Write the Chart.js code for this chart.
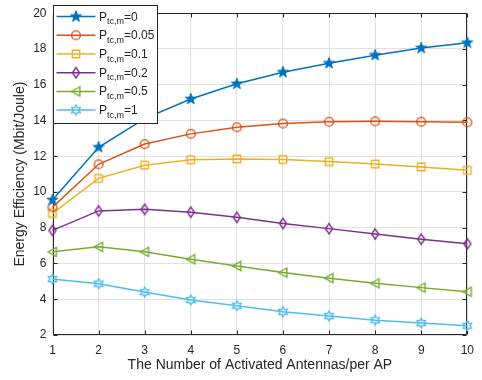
<!DOCTYPE html>
<html>
<head>
<meta charset="utf-8">
<style>
  html, body { margin: 0; padding: 0; background: #ffffff; }
  #wrap { width: 482px; height: 380px; position: relative; }
  canvas { display: block; }
</style>
<script src="https://cdn.jsdelivr.net/npm/chart.js@4.4.0/dist/chart.umd.min.js"></script>
</head>
<body>
<div id="wrap"><canvas id="c" width="482" height="380"></canvas></div>
<script>
// ---------- data ----------
const antennas = [1, 2, 3, 4, 5, 6, 7, 8, 9, 10];
const ptcLabels = ['0', '0.05', '0.1', '0.2', '0.5', '1'];
const ee_p0    = [9.55, 12.5, 14.1, 15.2, 16.05, 16.7, 17.2, 17.65, 18.05, 18.35];
const ee_p005  = [9.15, 11.55, 12.68, 13.25, 13.62, 13.83, 13.93, 13.95, 13.93, 13.9];
const ee_p01   = [8.8, 10.76, 11.5, 11.8, 11.85, 11.82, 11.7, 11.56, 11.4, 11.21];
const ee_p02   = [7.85, 8.94, 9.03, 8.87, 8.58, 8.24, 7.95, 7.65, 7.36, 7.1];
const ee_p05   = [6.65, 6.93, 6.65, 6.24, 5.86, 5.49, 5.18, 4.89, 4.65, 4.42];
const ee_p1    = [5.13, 4.87, 4.4, 3.96, 3.64, 3.3, 3.06, 2.83, 2.67, 2.52];
const xTicks = [1, 2, 3, 4, 5, 6, 7, 8, 9, 10];
const yTicks = [2, 4, 6, 8, 10, 12, 14, 16, 18, 20];
const xTitle = 'The Number of Activated Antennas/per AP';
const yTitle = 'Energy Efficiency (Mbit/Joule)';

const seriesValues = [ee_p0, ee_p005, ee_p01, ee_p02, ee_p05, ee_p1];
const colors = ['#0072BD', '#D95319', '#EDB120', '#7E2F8E', '#77AC30', '#4DBEEE'];
const FONT = '"Liberation Sans", Arial, Helvetica, sans-serif';
const AXIS = '#262626';

// ---------- marker images ----------
function mk(w, h, fn) {
  const c = document.createElement('canvas');
  c.width = w; c.height = h;
  const g = c.getContext('2d');
  g.translate(w / 2, h / 2);
  fn(g);
  return c;
}
function starPath(g, n, R, r) {
  g.beginPath();
  for (let i = 0; i < 2 * n; i++) {
    const a = -Math.PI / 2 + i * Math.PI / n;
    const rr = i % 2 === 0 ? R : r;
    const x = Math.cos(a) * rr, y = Math.sin(a) * rr;
    if (i === 0) g.moveTo(x, y); else g.lineTo(x, y);
  }
  g.closePath();
}
const markers = [
  mk(16, 16, g => { starPath(g, 5, 5.8, 2.4); g.fillStyle = colors[0]; g.fill(); g.strokeStyle = colors[0]; g.lineWidth = 1; g.stroke(); }),
  mk(14, 14, g => { g.beginPath(); g.arc(0, 0, 4.4, 0, Math.PI * 2); g.strokeStyle = colors[1]; g.lineWidth = 1.4; g.stroke(); }),
  mk(14, 14, g => { g.beginPath(); g.rect(-3.7, -3.7, 7.4, 7.4); g.strokeStyle = colors[2]; g.lineWidth = 1.4; g.stroke(); }),
  mk(14, 16, g => { g.beginPath(); g.moveTo(0, -5.2); g.lineTo(3.5, 0); g.lineTo(0, 5.2); g.lineTo(-3.5, 0); g.closePath(); g.strokeStyle = colors[3]; g.lineWidth = 1.4; g.stroke(); }),
  mk(14, 14, g => { g.beginPath(); g.moveTo(-4.5, 0); g.lineTo(3.9, -4.5); g.lineTo(3.9, 4.5); g.closePath(); g.strokeStyle = colors[4]; g.lineWidth = 1.4; g.stroke(); }),
  mk(14, 14, g => { starPath(g, 6, 4.9, 2.8); g.strokeStyle = colors[5]; g.lineWidth = 1.4; g.stroke(); })
];

// ---------- datasets ----------
const datasets = seriesValues.map((vals, i) => ({
  label: 'P_tc,m=' + ptcLabels[i],
  data: antennas.map((x, k) => ({ x: x, y: vals[k] })),
  borderColor: colors[i],
  backgroundColor: colors[i],
  borderWidth: 1.5,
  pointStyle: markers[i],
  pointRadius: 5,
  pointHoverRadius: 5,
  tension: 0,
  fill: false,
  clip: false
}));

// ---------- plugins ----------
const framePlugin = {
  id: 'frame',
  beforeDatasetsDraw(chart) {
    const { ctx, chartArea: a, scales } = chart;
    ctx.save();
    ctx.strokeStyle = AXIS;
    ctx.lineWidth = 1;
    const L = Math.round(a.left) + 0.5, R = Math.round(a.right) - 0.5;
    const T = Math.round(a.top) + 0.5, B = Math.round(a.bottom) - 0.5;
    ctx.beginPath();
    ctx.moveTo(L, T); ctx.lineTo(R, T); ctx.lineTo(R, B); ctx.lineTo(L, B); ctx.closePath();
    ctx.stroke();
    const tl = 4;
    ctx.beginPath();
    xTicks.forEach(v => {
      const px = Math.round(scales.x.getPixelForValue(v)) + 0.5;
      ctx.moveTo(px, B); ctx.lineTo(px, B - tl);
      ctx.moveTo(px, T); ctx.lineTo(px, T + tl);
    });
    yTicks.forEach(v => {
      const py = Math.round(scales.y.getPixelForValue(v)) + 0.5;
      ctx.moveTo(L, py); ctx.lineTo(L + tl, py);
      ctx.moveTo(R, py); ctx.lineTo(R - tl, py);
    });
    ctx.stroke();
    ctx.restore();
  }
};

const legendPlugin = {
  id: 'matlabLegend',
  afterDraw(chart) {
    const { ctx, chartArea: a } = chart;
    ctx.save();
    const x0 = Math.round(a.left) + 0.5, y0 = 5.5, w = 104, h = 118;
    ctx.fillStyle = '#ffffff';
    ctx.fillRect(x0, y0, w, h);
    ctx.strokeStyle = AXIS;
    ctx.lineWidth = 1;
    ctx.strokeRect(x0, y0, w, h);
    const step = 18.7;
    ptcLabels.forEach((lab, i) => {
      const cy = 16.6 + i * step;
      ctx.strokeStyle = colors[i];
      ctx.lineWidth = 1.5;
      ctx.beginPath();
      ctx.moveTo(x0 + 3, cy); ctx.lineTo(x0 + 42, cy);
      ctx.stroke();
      const m = markers[i];
      ctx.drawImage(m, x0 + 22.5 - m.width / 2, cy - m.height / 2);
      ctx.fillStyle = AXIS;
      ctx.textBaseline = 'alphabetic';
      ctx.textAlign = 'left';
      let tx = x0 + 45.5;
      const base = cy + 4;
      ctx.font = '12px ' + FONT;
      ctx.fillText('P', tx, base);
      tx += ctx.measureText('P').width;
      ctx.font = '9px ' + FONT;
      ctx.fillText('tc,m', tx, base + 3.5);
      tx += ctx.measureText('tc,m').width;
      ctx.font = '12px ' + FONT;
      ctx.fillText('=' + lab, tx, base);
    });
    ctx.restore();
  }
};

// ---------- chart ----------
new Chart(document.getElementById('c'), {
  type: 'line',
  data: { datasets: datasets },
  options: {
    responsive: false,
    animation: false,
    devicePixelRatio: 1,
    events: [],
    layout: { padding: { left: 0, top: 7, right: 13, bottom: 0 } },
    plugins: { legend: { display: false }, tooltip: { enabled: false } },
    scales: {
      x: {
        type: 'linear',
        min: 1, max: 10,
        afterBuildTicks: s => { s.ticks = xTicks.map(v => ({ value: v })); },
        afterFit: s => { s.height = 45; },
        grid: { color: '#e0e0e0', lineWidth: 1, drawTicks: false },
        border: { display: false },
        ticks: { color: AXIS, font: { family: FONT, size: 12 }, padding: 8, maxRotation: 0, autoSkip: false },
        title: { display: true, text: xTitle, color: AXIS, font: { family: FONT, size: 14 }, padding: { top: 0, bottom: 6.6 } }
      },
      y: {
        type: 'linear',
        min: 2, max: 20,
        afterBuildTicks: s => { s.ticks = yTicks.map(v => ({ value: v })); },
        afterFit: s => { s.width = 52.5; },
        grid: { color: '#e0e0e0', lineWidth: 1, drawTicks: false },
        border: { display: false },
        ticks: { color: AXIS, font: { family: FONT, size: 12 }, padding: 6, autoSkip: false },
        title: { display: true, text: yTitle, color: AXIS, font: { family: FONT, size: 14 }, padding: { top: 11.6, bottom: 0 } }
      }
    }
  },
  plugins: [framePlugin, legendPlugin]
});
</script>
</body>
</html>
